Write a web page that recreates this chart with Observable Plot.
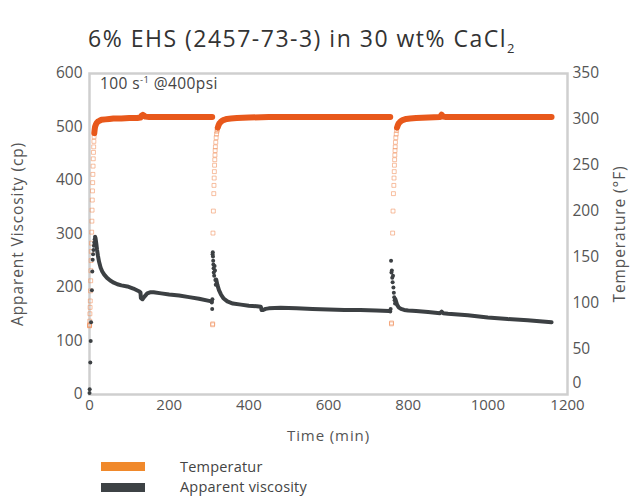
<!DOCTYPE html>
<html>
<head>
<meta charset="utf-8">
<script src="https://cdn.jsdelivr.net/npm/d3@7"></script>
<script src="https://cdn.jsdelivr.net/npm/@observablehq/plot@0.6"></script>
<style>
  body { margin: 0; background: #fff; font-family: "Open Sans", sans-serif; }
  #wrap { position: relative; width: 640px; height: 504px; overflow: hidden; }
  #title { position: absolute; left: 88px; top: 22px; font-size: 23px; letter-spacing: 1.5px; color: #333; white-space: nowrap; }
  #title sub { font-size: 13px; vertical-align: -6px; line-height: 0; letter-spacing: 0; }
  #chart { position: absolute; left: 0; top: 60px; }
  #note { position: absolute; left: 100px; top: 72px; font-size: 15.5px; letter-spacing: 0.4px; color: #444; white-space: nowrap; }
  #note sup { font-size: 9.5px; vertical-align: 6px; line-height: 0; }
  .leg { position: absolute; left: 101px; font-size: 14.5px; letter-spacing: 0.2px; color: #444; white-space: nowrap; }
  .sw { position: absolute; left: 0; width: 44px; height: 9px; }
  .lt { position: absolute; left: 79px; }
  #chart svg g[aria-label="y-axis label"] text, #chart svg g[aria-label="x-axis label"] text { letter-spacing: 0.9px; }
</style>
</head>
<body>
<div id="wrap">
  <div id="title">6% EHS (2457-73-3) in 30 wt% CaCl<sub>2</sub></div>
  <div id="chart"></div>
  <div id="note">100 s<sup>-1</sup> @400psi</div>
  <div class="leg" style="top:457px"><div class="sw" style="top:5px;background:#f0892b"></div><div class="lt">Temperatur</div></div>
  <div class="leg" style="top:477px"><div class="sw" style="top:6px;background:#3d4245"></div><div class="lt">Apparent viscosity</div></div>
</div>
<script>
// Axis ticks
const xTicks = [0, 200, 400, 600, 800, 1000, 1200];
const viscTicks = [0, 100, 200, 300, 400, 500, 600];
const tempTicks = [0, 50, 100, 150, 200, 250, 300, 350];

// Apparent viscosity (cp) – continuous trace, segment id per point
const viscTime = [15,17,19,21,24,28,32,37,44,52,61,70,80,95,110,124,128,129,133,138,145,152,161,180,200,225,250,275,300,307,
  318,321,325,330,336,346,360,380,400,420,430,432,436,442,450,480,520,560,600,640,680,720,752,
  768,772,776,782,790,800,820,850,880,884,888,900,950,1000,1050,1100,1130,1160];
const viscValue = [293,282,270,260,248,237,230,224,218,213,209,206,204,202,198,193,191,180,178,183,189,191,191,189,187,185,182,179,175,174,
  215,205,195,187,180,174,170,168,166,165,164,158,158,160,161,162,161,160,159,158,158,157,156,
  178,168,163,160,158,157,156,154,152,155,152,151,148,144,141,139,137,135];
const viscSeg = [1,1,1,1,1,1,1,1,1,1,1,1,1,1,1,1,1,1,1,1,1,1,1,1,1,1,1,1,1,1,
  2,2,2,2,2,2,2,2,2,2,2,2,2,2,2,2,2,2,2,2,2,2,2,
  3,3,3,3,3,3,3,3,3,3,3,3,3,3,3,3,3,3];

// Apparent viscosity (cp) – scattered readings at start-up and after each shut-in
const viscSpikeTime = [0,0.5,2,3,4,6,7,8,9,10,11,12,13,14,
  307,308,308.5,309,309.5,310,310.5,311,311.5,312,313,314,315,316,317,
  755,756,757,758,759,760,761,762,763,764,765,766,767];
const viscSpikeValue = [3,10,60,100,135,195,230,252,262,270,278,284,290,295,
  172,160,178,262,266,258,250,243,236,228,222,240,232,214,205,
  155,160,250,228,232,218,210,222,200,190,182,176,170];

// Temperature (°F) – dense plateau readings, segment id per point
const tempTime = [12,13,14,16,18,21,25,30,40,50,60,80,100,120,128,131,134,137,140,150,200,250,300,308,
  322,324,326,329,333,338,345,355,370,400,450,500,600,700,755,
  772,774,776,779,783,788,795,805,820,850,880,884,888,895,950,1000,1100,1160];
const tempValue = [285,289,292,294.5,296,297.5,298.5,299.5,300,300.5,301,301,301.5,301.5,302,304,305,304,303,302.5,302.5,302.5,302.5,302.5,
  291,293.5,295.5,297,298.5,299.5,300.5,301,301.5,302,302.5,302.5,302.5,302.5,302.5,
  291,293.5,295.5,297,298.5,299.5,300.5,301,301.5,302,302.5,305,303,302.5,302.5,302.5,302.5,302.5];
const tempSeg = [1,1,1,1,1,1,1,1,1,1,1,1,1,1,1,1,1,1,1,1,1,1,1,1,
  2,2,2,2,2,2,2,2,2,2,2,2,2,2,2,
  3,3,3,3,3,3,3,3,3,3,3,3,3,3,3,3,3,3];

// Temperature (°F) – sparse readings during each heat-up
const tempRampTime = [0,0.2,0.4,0.6,1,1.5,2,2.5,3,3.5,4,4.5,5,5.5,6,6.5,7,7.5,8,8.5,9,9.5,10,10.5,11,11.5,
  309,309.3,310,311,312,312.5,313,313.5,314,314.5,315,315.5,316,317,318,319,320,321,
  758,758.3,761,762,763,764,764.5,765,765.5,766,766.5,767,767.5,768,769,770,771];
const tempRampValue = [75,75,76,80,88,95,102,113,124,135,146,156,165,177,189,201,212,222,231,240,249,257,264,270,276,281,
  76,77,176,200,219,228,236,243,250,256,261,266,270,275,280,284,287,289,
  77,78,176,200,219,228,236,243,250,256,261,266,270,275,280,284,288];

const toV = T => T * 600 / 350;  // temperature onto the viscosity axis
const viscTrace = viscTime.map((t, i) => ({t, v: viscValue[i], s: viscSeg[i]}));
const viscSpikes = viscSpikeTime.map((t, i) => ({t, v: viscSpikeValue[i]}));
const tempTrace = tempTime.map((t, i) => ({t, v: toV(tempValue[i]), s: tempSeg[i]}));
const tempRamp = tempRampTime.map((t, i) => ({t, v: toV(tempRampValue[i])}));

const fmtT = d => String(Math.round(d * 350 / 600));

const chart = Plot.plot({
  width: 640,
  height: 395,
  marginLeft: 89,
  marginRight: 73,
  marginTop: 13,
  marginBottom: 61,
  style: {fontFamily: "'Open Sans', sans-serif", fontSize: "15px", color: "#555", background: "white"},
  x: {domain: [0, 1200]},
  y: {domain: [0, 600]},
  marks: [
    Plot.frame({stroke: "#cfcfcf", strokeWidth: 2.5}),
    Plot.axisX(xTicks, {label: "Time (min)", labelAnchor: "center", labelOffset: 46, labelArrow: "none", tickSize: 0, tickPadding: 5, fontSize: 15, tickFormat: d => String(d)}),
    Plot.axisY(viscTicks, {anchor: "left", label: "Apparent Viscosity (cp)", labelAnchor: "center", labelOffset: 78, labelArrow: "none", tickSize: 0, tickPadding: 7, fontSize: 15.5}),
    Plot.axisY(tempTicks.filter(T => T > 0).map(toV), {anchor: "right", tickFormat: fmtT, label: "Temperature (°F)", labelAnchor: "center", labelOffset: 57, labelArrow: "none", tickSize: 0, tickPadding: 5, fontSize: 15.5}),
    Plot.axisY(tempTicks.filter(T => T === 0).map(toV), {anchor: "right", tickFormat: fmtT, label: null, tickSize: 0, tickPadding: 5, dy: -11, fontSize: 15.5}),
    Plot.dot(tempRamp, {x: "t", y: "v", symbol: "square", r: 2.2, fill: "none", stroke: "#f29462", strokeWidth: 1, strokeOpacity: 0.6}),
    Plot.line(tempTrace, {x: "t", y: "v", z: "s", stroke: "#e8581b", strokeWidth: 6}),
    Plot.line(viscTrace, {x: "t", y: "v", z: "s", stroke: "#3c4043", strokeWidth: 4}),
    Plot.dot(viscSpikes, {x: "t", y: "v", r: 2, fill: "#3c4043"})
  ]
});
document.getElementById("chart").appendChild(chart);
</script>
</body>
</html>
